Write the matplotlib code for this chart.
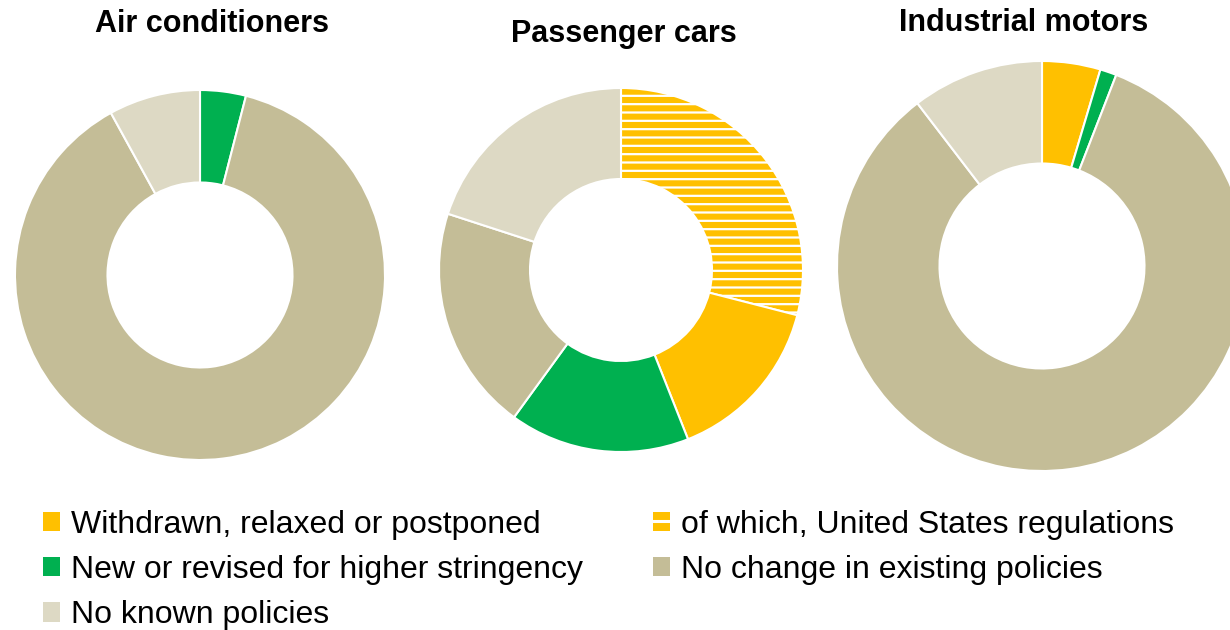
import matplotlib
matplotlib.use("Agg")
import matplotlib.pyplot as plt
from matplotlib.patches import Patch, Rectangle
from matplotlib.lines import Line2D
from matplotlib.legend_handler import HandlerBase

plt.rcParams["font.family"] = ["Liberation Sans", "DejaVu Sans"]
plt.rcParams["hatch.color"] = "white"
plt.rcParams["hatch.linewidth"] = 1.6

# データ
titles = ["Air conditioners", "Passenger cars", "Industrial motors"]
categories = [
    "of which, United States regulations",
    "Withdrawn, relaxed or postponed",
    "New or revised for higher stringency",
    "No change in existing policies",
    "No known policies",
]
air_conditioners = [0, 0, 4, 88, 8]
passenger_cars = [29, 15, 16, 20, 20]
industrial_motors = [0, 4.6, 1.3, 83.7, 10.4]

colors = ["#FFC000", "#FFC000", "#00B050", "#C4BD97", "#DDD9C4"]
hatches = ["--", None, None, None, None]

# ドーナツの位置 (ピクセル, 上から)
centers = [(200, 275), (621, 270), (1042, 266)]
radii = [185, 182, 205]
title_pos = [(212, 24), (624, 34), (1024, 23)]


# 凡例のストライプ用ハンドラ
class StripeHandler(HandlerBase):
    def create_artists(self, legend, orig_handle, xdescent, ydescent,
                       width, height, fontsize, trans):
        rect = Rectangle((-xdescent, -ydescent), width, height,
                         facecolor=orig_handle.get_facecolor(),
                         edgecolor="none", transform=trans)
        line = Line2D([-xdescent, -xdescent + width],
                      [-ydescent + height / 2] * 2,
                      color="white", linewidth=2.2, transform=trans)
        return [rect, line]


W, H = 1230, 630
fig = plt.figure(figsize=(12.3, 6.3), dpi=100)
ax = fig.add_axes([0, 0, 1, 1])

for vals, (cx, cy), r, t, tp in zip(
    [air_conditioners, passenger_cars, industrial_motors],
    centers, radii, titles, title_pos,
):
    ax.pie(
        vals,
        colors=colors,
        startangle=90,
        counterclock=False,
        center=(cx, H - cy),
        radius=r,
        wedgeprops=dict(width=r * 0.5, edgecolor="white", linewidth=1.5),
        hatch=hatches if vals is passenger_cars else None,
        frame=True,
    )
    ax.text(tp[0], H - tp[1], t, ha="center", va="center",
            fontsize=22, fontweight="bold")

ax.set_xlim(0, W)
ax.set_ylim(0, H)
ax.set_aspect("equal")
ax.axis("off")

# 凡例
order = [1, 2, 4, 0, 3]
handles = [Patch(facecolor=colors[i], linewidth=0) for i in order]
fig.legend(
    handles, [categories[i] for i in order],
    handler_map={handles[3]: StripeHandler()},
    ncol=2, loc="upper left", bbox_to_anchor=(0.0347, 0.191),
    frameon=False, fontsize=23, handlelength=0.53, handleheight=0.56,
    handletextpad=0.35, labelspacing=0.48, columnspacing=2.2,
    borderaxespad=0, borderpad=0,
)

fig.savefig("out.png", dpi=100)
